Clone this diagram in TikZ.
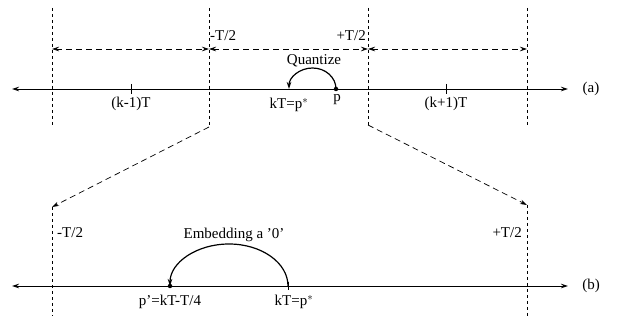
\documentclass[tikz,border=0pt]{standalone}
\usepackage{fontspec}
\setmainfont{Liberation Serif}
\usetikzlibrary{arrows.meta}
\begin{document}
\begin{tikzpicture}[x=1pt,y=-1pt,
  tip/.tip={Stealth[length=7pt,width=4.5pt]},
  axisline/.style={line width=0.9pt,{tip}-{tip}},
  vdash/.style={line width=0.7pt,dash pattern=on 3.5pt off 2.5pt},
  dimline/.style={line width=0.7pt,dash pattern=on 6pt off 4pt,{tip}-{tip}},
  zoomline/.style={line width=0.7pt,dash pattern=on 6pt off 4pt,-{tip}},
  arcline/.style={line width=1.2pt,-{tip}},
  lbl/.style={inner sep=0pt,font=\fontsize{15}{18}\selectfont},
  dotpt/.style={circle,fill=black,inner sep=0pt,minimum size=4.5pt}]
\useasboundingbox (0,0) rectangle (638,323);
% ---- (a) ----
\coordinate (aL) at (12,89);
\coordinate (aR) at (568,89);
\draw[axisline] (aL) -- (aR);
\coordinate (v1t) at (52,8);   \coordinate (v1b) at (52,125);
\coordinate (v2t) at (209,8);  \coordinate (v2b) at (209,127);
\coordinate (v3t) at (368,8);  \coordinate (v3b) at (368,125);
\coordinate (v4t) at (527,8);  \coordinate (v4b) at (527,125);
\draw[vdash] (v1t) -- (v1b);
\draw[vdash] (v2t) -- (v2b);
\draw[vdash] (v3t) -- (v3b);
\draw[vdash] (v4t) -- (v4b);
\coordinate (d1) at (52,49); \coordinate (d2) at (209,49);
\coordinate (d3) at (368,49); \coordinate (d4) at (527,49);
\draw[dimline] (d1) -- (d2);
\draw[dimline] (d2) -- (d3);
\draw[dimline] (d3) -- (d4);
\node[lbl,anchor=west] (mTa) at (210,36) {-T/2};
\node[lbl,anchor=east] (pTa) at (366,36) {+T/2};
% ticks
\draw[line width=0.9pt] (131,84) -- (131,94);
\draw[line width=0.9pt] (446,84) -- (446,94);
\node[lbl] (km1l) at (131,104) {(k-1)T};
\node[lbl] (kp1l) at (446,104) {(k+1)T};
\node[dotpt] (p) at (336,89) {};
\coordinate (kT) at (289,89);
\node[lbl] (pl) at (337,100) {p};
\node[lbl] (kTl) at (289,105) {kT=p$^{*}$};
\draw[arcline] (p.center) arc[start angle=0,end angle=-180,x radius=23.5,y radius=21];
\node[lbl] (quant) at (314,61) {Quantize};
\node[lbl] (la) at (591,89) {(a)};
% ---- zoom lines ----
\coordinate (z1) at (52,207);
\coordinate (z2) at (527,205);
\draw[zoomline] (v2b) -- (z1);
\draw[zoomline] (v3b) -- (z2);
% ---- (b) ----
\coordinate (bL) at (12,286);
\coordinate (bR) at (568,286);
\draw[axisline] (bL) -- (bR);
\coordinate (w1b) at (52,316);
\coordinate (w2b) at (527,316);
\draw[vdash] (z1) -- (w1b);
\draw[vdash] (z2) -- (w2b);
\node[lbl,anchor=west] (mTb) at (57,233) {-T/2};
\node[lbl,anchor=east] (pTb) at (522,233) {+T/2};
\node[dotpt] (pp) at (170,286) {};
\coordinate (kTb) at (288,286);
\draw[line width=0.9pt] (288,282) -- (288,290);
\draw[arcline] (kTb) arc[start angle=0,end angle=-180,x radius=59,y radius=42];
\node[lbl] (emb) at (234,235) {Embedding a '0'};
\node[lbl] (ppl) at (170,302) {p'=kT-T/4};
\node[lbl] (kTbl) at (294,302) {kT=p$^{*}$};
\node[lbl] (lb) at (591,286) {(b)};
\end{tikzpicture}
\end{document}
